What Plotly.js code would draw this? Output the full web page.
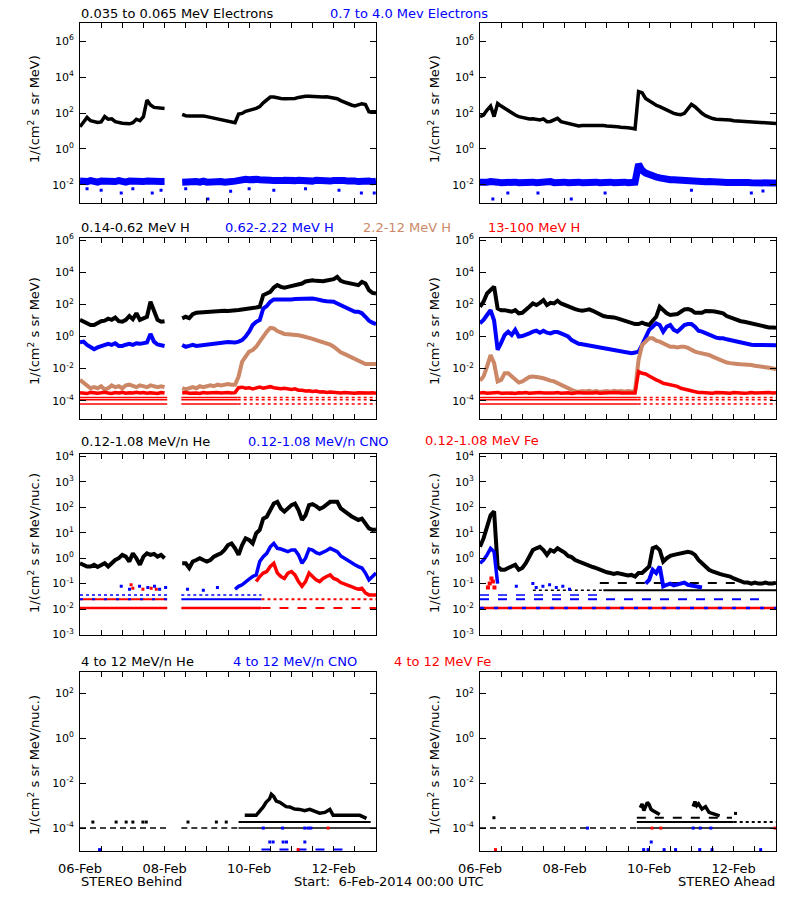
<!DOCTYPE html>
<html><head><meta charset="utf-8">
<script src="https://cdn.plot.ly/plotly-3.0.1.min.js"></script>
<style>html,body{margin:0;padding:0;background:#fff}#chart{width:800px;height:900px}</style>
</head><body><div id="chart"></div>
<script>
// ---- time grid: hours since 6-Feb-2014 00:00 UTC, one reading every 2 h ----
const HOURS = Array.from({length: 85}, (_, i) => 2 * i);
const TICK_HOURS = [0, 48, 96, 144];
const TICK_TEXT = ['06-Feb', '08-Feb', '10-Feb', '12-Feb'];

// ---- Row 1: electrons ----
const B_E_LOW = [17,33,57,37,32,30,32,63,45,47, 33,29,27,26,25,29,45,37,63,530,
 280,205,200,205,180,null,null,null,null,85, 71,68,68,71,74,68,63,57,50,45,
 39,37,35,32,29,88,95,125,147,160, 180,225,370,525,775,775,680,650,630,630,
 650,650,740,810,850,850,810,775,740,775, 810,740,680,630,490,390,316,280,245,280,
 330,300,118,118,118];
const B_E_HIGH = [0.016,0.014,0.015,0.017,0.015,0.014,0.016,0.015,0.014,0.016,
 0.015,0.017,0.015,0.014,0.016,0.015,0.016,0.014,0.015,0.016,
 0.015,0.014,0.016,0.015,0.015,null,null,null,null,0.014,
 0.015,0.013,0.014,0.015,0.014,0.016,0.014,0.015,0.014,0.016,
 0.015,0.014,0.016,0.015,0.016,0.018,0.019,0.020,0.019,0.021,
 0.020,0.019,0.020,0.019,0.018,0.017,0.016,0.017,0.018,0.017,
 0.016,0.017,0.018,0.017,0.016,0.017,0.016,0.018,0.017,0.016,
 0.017,0.016,0.017,0.018,0.016,0.017,0.016,0.017,0.016,0.015,
 0.016,0.017,0.016,0.015,0.016];
const B_E_HIGH_OUT_H = [4,12,23.4,30,41,46,60,72.6,85.5,96,110,128,147,159.7,167];
const B_E_HIGH_OUT = [0.006,0.005,0.0035,0.006,0.0035,0.005,0.006,0.0016,0.0043,0.006,0.005,0.006,0.005,0.0035,0.0035];

const A_E_LOW = [63,77,147,240,63,345,245,180,135,105, 77,63,55,50,47,48,45,41,47,33,
 34,41,50,33,30,28,25,21,19,20, 20,21,20,22,21,20,19,19,17,17,
 16,16,15,14,13,1550,1350,650,465,345, 270,225,180,147,118,96,85,81,96,180,
 300,225,135,96,71,57,49,45,45,43, 41,41,37,36,36,35,33,33,32,31,
 29,28,27,26,26];
const A_E_HIGH = [0.014,0.013,0.014,0.015,0.013,0.014,0.013,0.014,0.015,0.013,
 0.014,0.013,0.014,0.013,0.015,0.014,0.013,0.014,0.013,0.014,
 0.015,0.013,0.014,0.013,0.014,0.013,0.014,0.013,0.014,0.013,
 0.014,0.015,0.013,0.014,0.013,0.014,0.013,0.014,0.013,0.014,
 0.013,0.014,0.013,0.014,0.014,0.14,0.063,0.045,0.036,0.030,
 0.027,0.024,0.021,0.020,0.019,0.019,0.018,0.017,0.017,0.016,
 0.0155,0.016,0.015,0.015,0.0145,0.015,0.014,0.0145,0.014,0.014,
 0.0135,0.014,0.0135,0.013,0.0135,0.013,0.0135,0.013,0.0125,0.013,
 0.0125,0.013,0.0125,0.0125,0.0125];
const A_E_HIGH_OUT_H = [7.3,15.8,32.9,51.8,71,120,154,160.6];
const A_E_HIGH_OUT = [0.0016,0.0035,0.0035,0.0016,0.0035,0.005,0.0035,0.0045];

// ---- Row 2: protons ----
const B_H1 = [11,9,6.6,5.2,5.2,7.3,9,9.7,13,11, 15,9,8.3,11,19,12,28,11,13.5,17,
 147,44,11,8.3,9,null,null,null,null,13.5, 17,14,25,30,31,35,37,39,40,39,
 40,40,39,40,39,45,49,51,54,56, 65,72,380,480,610,1140,1590,1250,1090,1250,
 1380,1590,1820,2000,2690,2950,3240,2950,2820,2820, 3090,3560,3720,5250,2950,2450,2140,1820,1590,1590,
 2570,2000,775,525,480];
const B_H2 = [0.44,0.48,0.30,0.21,0.16,0.21,0.26,0.30,0.35,0.30,
 0.38,0.26,0.26,0.31,0.35,0.30,0.38,0.35,0.38,0.42,
 1.45,0.48,0.32,0.30,0.26,null,null,null,null,0.30,
 0.23,0.26,0.30,0.26,0.28,0.31,0.31,0.35,0.38,0.38,
 0.42,0.44,0.46,0.44,0.42,0.48,0.60,1.0,2.0,5.2,
 8.3,10.7,56,79,147,205,205,185,185,205,
 205,215,225,235,245,245,235,215,205,170,
 160,160,147,115,91,65,49,40,35,35,
 28,17,9.7,7.3,6.0];
const B_H3 = [0.002,0.00135,0.00085,0.0006,0.0007,0.0006,0.0008,0.0005,0.0006,0.0009,
 0.0007,0.0008,0.0006,0.0009,0.001,0.0008,0.0007,0.0009,0.0008,0.0007,
 0.0009,0.0008,0.0007,0.0008,0.0007,null,null,null,null,0.0006,
 0.0005,0.0006,0.0007,0.0006,0.0008,0.0007,0.0008,0.0009,0.0008,0.001,
 0.0009,0.001,0.0011,0.001,0.001,0.0032,0.027,0.056,0.115,0.145,
 0.23,0.48,1.07,2.0,3.5,3.2,2.2,1.7,1.45,1.38,
 1.38,1.25,1.2,1.07,0.98,0.85,0.71,0.60,0.52,0.44,
 0.38,0.31,0.23,0.145,0.104,0.083,0.065,0.051,0.038,0.032,
 0.027,0.0195,0.0195,0.0195,0.0195];
const B_H4 = [3.2e-4,3e-4,2.8e-4,3.3e-4,3e-4,2.9e-4,3.1e-4,3.4e-4,3e-4,2.8e-4,
 3.2e-4,3e-4,3.3e-4,2.9e-4,3.1e-4,3e-4,3.4e-4,3e-4,3.2e-4,2.9e-4,
 3.1e-4,3e-4,2.8e-4,3.2e-4,3e-4,null,null,null,null,3e-4,
 3.2e-4,2.9e-4,3.1e-4,3e-4,2.8e-4,3.2e-4,3e-4,3.1e-4,2.9e-4,3.2e-4,
 3e-4,3.1e-4,3.3e-4,3e-4,3.2e-4,6.5e-4,7e-4,6e-4,6.5e-4,5.5e-4,
 6.5e-4,7e-4,6e-4,7e-4,7.5e-4,6.5e-4,6e-4,5.5e-4,6e-4,5.5e-4,
 5e-4,5.5e-4,4.5e-4,4.5e-4,4e-4,4.2e-4,3.8e-4,4e-4,3.5e-4,3.6e-4,
 3.3e-4,3.5e-4,3.2e-4,3.3e-4,3e-4,3.2e-4,3e-4,3.1e-4,2.9e-4,3.1e-4,
 3e-4,2.9e-4,3e-4,3.1e-4,2.9e-4];
const H_RED_LEVELS = [1.6e-4, 1.15e-4, 6.2e-5];

const A_H1 = [72,147,480,775,1300,56,44,44,39,35, 44,28,30,44,72,115,91,126,185,91,
 126,115,170,115,91,72,62,51,44,40, 44,49,40,30,22,19,17,17,15.5,13.5,
 11.7,9.7,8.3,6.6,6,6,7.3,6,5.2,9.7, 17,72,44,28,22,22,25,35,49,51,
 44,30,28,30,39,40,37,35,30,28, 19,15.5,11.7,11,9,8.3,7.3,6.6,5.7,4.7,
 4.5,4.1,3.7,3.7,3.5];
const A_H2 = [6.6,10.7,22,44,10,0.15,0.4,1.25,2.0,1.25,
 2.6,1.0,1.07,1.25,1.58,2.0,2.3,1.73,2.3,1.73,
 1.58,1.9,1.9,1.58,1.25,1.0,0.6,0.42,0.35,0.33,
 0.3,0.3,0.26,0.23,0.21,0.195,0.17,0.16,0.145,0.13,
 0.12,0.11,0.1,0.091,0.1,0.115,0.3,1.0,2.6,4.1,
 6.6,5.2,2.0,4.1,5.2,2.6,2.0,3.2,5.2,6.0,
 6.0,4.1,2.3,2.0,1.58,1.45,1.0,0.85,0.78,0.78,
 0.67,0.6,0.52,0.42,0.38,0.35,0.33,0.31,0.3,0.3,
 0.3,0.3,0.3,0.29,0.29];
const A_H3 = [0.0018,0.0032,0.0135,0.07,0.022,0.0016,0.002,0.0051,0.0051,0.0032,
 0.0018,0.00135,0.0016,0.0022,0.003,0.0032,0.0032,0.0028,0.0025,0.002,
 0.0018,0.0016,0.00122,0.00098,0.00078,0.0006,0.00048,0.0004,0.00035,0.0004,
 0.00038,0.00042,0.00036,0.0004,0.00035,0.00038,0.0004,0.00036,0.00042,0.00038,
 0.0004,0.00036,0.0004,0.00038,0.0004,0.035,0.3,0.48,0.78,0.78,
 0.55,0.48,0.38,0.3,0.23,0.23,0.21,0.23,0.23,0.195,
 0.145,0.115,0.1,0.091,0.083,0.071,0.056,0.045,0.035,0.027,
 0.024,0.022,0.0195,0.0195,0.0185,0.0185,0.017,0.017,0.0152,0.0135,
 0.0122,0.0122,0.0112,0.01,0.0093];
const A_H4 = [3e-4,3.2e-4,2.9e-4,3.1e-4,3e-4,3.3e-4,2.9e-4,3e-4,3.2e-4,3e-4,
 2.8e-4,3.1e-4,3e-4,3.2e-4,2.9e-4,3.1e-4,3e-4,3.3e-4,3e-4,2.9e-4,
 3.1e-4,3e-4,3.2e-4,2.9e-4,3e-4,3.1e-4,2.8e-4,3e-4,3.2e-4,3e-4,
 2.9e-4,3.1e-4,3e-4,3.2e-4,2.9e-4,3e-4,3.1e-4,2.9e-4,3e-4,3.2e-4,
 3e-4,2.9e-4,3.1e-4,3e-4,3e-4,0.0066,0.0051,0.0046,0.0035,0.0025,
 0.002,0.0016,0.00122,0.0011,0.00098,0.0009,0.00078,0.0006,0.00052,0.00048,
 0.00042,0.00038,0.00033,3.2e-4,3e-4,3.1e-4,2.9e-4,3.2e-4,3e-4,3.1e-4,
 3e-4,2.9e-4,3.2e-4,3e-4,3.1e-4,2.9e-4,3e-4,3.2e-4,3e-4,3.1e-4,
 2.9e-4,3e-4,3.2e-4,3e-4,3.1e-4];

// ---- Row 3: 0.12-1.08 MeV/n ions ----
const B_HE = [0.63,0.55,0.47,0.47,0.55,0.45,0.55,0.63,0.47,0.63,
 0.85,1.0,1.35,1.15,0.74,1.55,1.0,0.55,1.15,1.55,
 1.35,1.48,1.15,1.35,1.0,null,null,null,null,0.63,
 0.63,0.41,0.74,0.85,1.0,0.85,0.74,0.85,1.15,1.35,
 1.55,2.1,3.3,3.8,2.45,1.35,3.3,6.0,5.2,3.8,
 9.6,13,36,43,78,141,165,91,68,91,
 123,141,78,32,49,123,134,112,87,100,
 123,165,165,165,91,68,57,45,36,32,
 36,23,15,13,13.6];
const B_CNO = [0.06,0.078,0.09,0.12,0.15,0.19,
 0.22,0.74,1.15,1.55,2.8,3.8,2.45,2.3,2.1,1.8,
 2.1,2.1,1.35,0.63,1.0,2.3,2.1,1.66,1.48,1.66,
 2.0,2.45,2.1,1.8,1.23,1.0,0.81,0.63,0.55,0.47,
 0.41,0.26,0.14,0.19,0.26];            // from hour 88
const B_FE = [0.12,0.19,0.26,0.3,0.47,0.63,0.26,0.19,0.16,0.26,
 0.3,0.22,0.12,0.078,0.12,0.26,0.19,0.14,0.12,0.16,
 0.19,0.22,0.16,0.14,0.11,0.1,0.085,0.077,0.066,0.06,
 0.066,0.043,0.036,0.036,0.036];        // from hour 100
const B_CNO_SPARSE_H = [23.4,28.1,33.8,38.5,42.3,45.2,48.6,61,70,78];
const B_CNO_SPARSE = [0.078,0.06,0.078,0.07,0.078,0.06,0.07,0.06,0.055,0.07];
const B_FE_SPARSE_H = [29,30,35.7,40.4,43.3];
const B_FE_SPARSE = [0.09,0.066,0.06,0.066,0.06];

const A_HE = [2.8,6.0,17,49,70,0.47,0.35,0.35,0.41,0.47,
 0.55,0.35,0.41,0.63,1.15,2.1,2.45,2.8,2.1,1.35,
 2.1,1.8,2.45,2.1,1.66,1.23,1.1,0.85,0.74,0.63,
 0.55,0.47,0.45,0.41,0.35,0.3,0.28,0.26,0.24,0.26,
 0.24,0.22,0.21,0.22,0.19,0.26,0.26,0.35,0.47,2.45,
 2.8,2.1,0.74,1.0,1.23,1.35,1.48,1.55,1.66,1.8,
 1.66,1.35,0.85,0.63,0.47,0.35,0.3,0.26,0.24,0.22,
 0.21,0.19,0.16,0.14,0.12,0.11,0.11,0.1,0.11,0.1,
 0.1,0.11,0.1,0.1,0.11];
const A_CNO_EARLY = [0.63,0.85,1.35,2.45,1.8,0.1];        // hours 0-10
const A_CNO_EVENT = [0.1,0.14,0.35,0.26,0.47,0.078,0.09,0.1,0.085,0.09,0.1,0.11,0.09,0.085,0.08,0.075,0.07]; // hours 94-126
const A_CNO_SPARSE_H = [20.6,30,31.9,35.7,39.5,43.3,47,50.8];
const A_CNO_SPARSE = [0.078,0.1,0.07,0.078,0.09,0.07,0.078,0.06];
const A_FE_SPARSE_H = [4.5,5.5,6.5,7.3,8.2];
const A_FE_SPARSE = [0.07,0.1,0.16,0.12,0.07];

// ---- Row 4: 4-12 MeV/n ions ----
const B_HE2_LOW_H = [7.3,20.5,26.2,30,35.7,37.6,61.3,77.4,83];
const B_HE2_EVENT_H = [93.5,96.3,100,104,105.6,107.6,108.6,110,111.4,113.4,115,117,119,121.8,124.7,127.5,130.4,133,136,139,141.8,143.7,147.5,153,158.8,162.6];
const B_HE2_EVENT = [3.7e-4,3.7e-4,3.7e-4,8.7e-4,1.4e-3,2e-3,3.2e-3,2.5e-3,1.6e-3,1.4e-3,1.1e-3,9e-4,8.7e-4,7e-4,6.8e-4,6e-4,6.8e-4,5.5e-4,4.6e-4,5e-4,6.8e-4,3.7e-4,3.7e-4,3.7e-4,3.7e-4,2.7e-4];
const B_CNO2_LOW_H = [11.1,107.7,109.6,115.3,117.2,127.6];
const B_CNO2_LOW = [1.1e-5,2.4e-5,2.4e-5,2.4e-5,2.4e-5,2.4e-5];
const B_CNO2_BASE_H = [104,115,127.6,129.5,131];
const B_FE2_H = [123.8,140.8];
const B_FE2 = [1.1e-5,1e-4];

const A_HE2_EARLY_H = [7.9];
const A_HE2_EARLY = [2.9e-4];
const A_HE2_EV1_H = [91,92,93,94,95,96,97,98,100,102];
const A_HE2_EV1 = [8e-4,1.2e-3,6e-4,1e-3,1.4e-3,1.1e-3,7e-4,6e-4,5e-4,4e-4];
const A_HE2_EV2_H = [121,122,123,124,126,128,130,133,136,145];
const A_HE2_EV2 = [9e-4,1.5e-3,1e-3,1.2e-3,7e-4,9e-4,5e-4,4e-4,3.5e-4,4.5e-4];
const A_CNO2_H = [92.9,95.4,97.2,104.5,111,124.7,131.7,159.3,61,121,125,131];
const A_CNO2 = [1.1e-5,1.1e-5,2.4e-5,1.1e-5,1.1e-5,1.1e-5,1.1e-5,1.1e-5,1e-4,1e-4,1e-4,1e-4];
const A_FE2_H = [8.8,97.6,102.6,167.5];
const A_FE2 = [1.1e-5,1e-4,1e-4,1e-4];

const BLACK = '#000000', BLUE = '#0000ff', BROWN = 'rgb(204,136,102)', RED = '#ff0000';
const FONT = 'DejaVu Sans, sans-serif';

function tr(p, x, y, color, width, dash) {
  const ax = p === 1 ? '' : String(p);
  return {type: 'scatter', mode: 'lines', x: x, y: y, xaxis: 'x' + ax, yaxis: 'y' + ax,
    line: {color: color, width: width, dash: dash || 'solid'}, connectgaps: false,
    hoverinfo: 'skip', showlegend: false};
}
function mk(p, x, y, color, size) {
  const ax = p === 1 ? '' : String(p);
  return {type: 'scatter', mode: 'markers', x: x, y: y, xaxis: 'x' + ax, yaxis: 'y' + ax,
    marker: {color: color, size: size || 3, symbol: 'square', line: {width: 0}},
    hoverinfo: 'skip', showlegend: false};
}
function seg(p, spans, level, color, width, dash) {
  const x = [], y = [];
  spans.forEach((s, k) => { if (k) { x.push(null); y.push(null); } x.push(s[0], s[1]); y.push(level, level); });
  return tr(p, x, y, color, width, dash);
}
const B_SPANS = [[0, 49.5], [57.5, 89.5]];
const AFTER = [[89.5, 168]];

const traces = [
  // panel 1
  tr(1, HOURS, B_E_LOW, BLACK, 3.5),
  tr(1, HOURS, B_E_HIGH, BLUE, 7),
  mk(1, B_E_HIGH_OUT_H, B_E_HIGH_OUT, BLUE, 3),
  // panel 2
  tr(2, HOURS, A_E_LOW, BLACK, 3.5),
  tr(2, HOURS, A_E_HIGH, BLUE, 7),
  mk(2, A_E_HIGH_OUT_H, A_E_HIGH_OUT, BLUE, 3),
  // panel 3
  tr(3, HOURS, B_H1, BLACK, 4),
  tr(3, HOURS, B_H2, BLUE, 4),
  tr(3, HOURS, B_H3, BROWN, 4),
  ...H_RED_LEVELS.map(l => seg(3, B_SPANS, l, RED, 1.5)),
  ...H_RED_LEVELS.map(l => seg(3, AFTER, l, RED, 1.5, 'dot')),
  tr(3, HOURS, B_H4, RED, 3.5),
  // panel 4
  tr(4, HOURS, A_H1, BLACK, 4),
  tr(4, HOURS, A_H2, BLUE, 4),
  tr(4, HOURS, A_H3, BROWN, 4),
  ...H_RED_LEVELS.map(l => seg(4, [[0, 89.5]], l, RED, 1.5)),
  ...H_RED_LEVELS.map(l => seg(4, AFTER, l, RED, 1.5, 'dot')),
  tr(4, HOURS, A_H4, RED, 3.5),
  // panel 5
  tr(5, HOURS, B_HE, BLACK, 4),
  seg(5, [[0, 49.5], [57.5, 103]], 0.036, BLUE, 1.5, 'dot'),
  seg(5, [[0, 49.5]], 0.024, RED, 2),
  seg(5, [[0, 49.5]], 0.024, BLUE, 2, '3px,9px'),
  seg(5, [[57.5, 103]], 0.024, BLUE, 2),
  seg(5, [[103, 168]], 0.024, RED, 2, 'dot'),
  seg(5, [[0, 49.5], [57.5, 103]], 0.011, RED, 2.5),
  seg(5, [[103, 168]], 0.011, RED, 2, 'dash'),
  mk(5, B_CNO_SPARSE_H, B_CNO_SPARSE, BLUE, 3),
  mk(5, B_FE_SPARSE_H, B_FE_SPARSE, RED, 3),
  tr(5, HOURS.slice(44), B_CNO, BLUE, 3.5),
  tr(5, HOURS.slice(50), B_FE, RED, 3.5),
  // panel 6
  seg(6, [[70, 168]], 0.055, BLACK, 2),
  seg(6, [[30, 70]], 0.055, BLACK, 1.5, 'dot'),
  seg(6, [[68, 168]], 0.105, BLACK, 2, 'dash'),
  tr(6, HOURS, A_HE, BLACK, 4),
  seg(6, [[0, 70]], 0.036, BLUE, 1.5, 'dash'),
  seg(6, [[0, 160]], 0.024, BLUE, 2, 'dash'),
  seg(6, [[0, 168]], 0.011, RED, 2.5),
  seg(6, [[0, 168]], 0.011, BLUE, 2.5, '4px,10px'),
  mk(6, A_CNO_SPARSE_H, A_CNO_SPARSE, BLUE, 3),
  tr(6, HOURS.slice(0, 6), A_CNO_EARLY, BLUE, 3.5),
  tr(6, HOURS.slice(47, 64), A_CNO_EVENT, BLUE, 4),
  mk(6, A_FE_SPARSE_H, A_FE_SPARSE, RED, 4),
  // panel 7
  seg(7, [[0, 49.5], [57.5, 90]], 1e-4, BLACK, 1.5, '6px,4px'),
  seg(7, [[90, 168]], 1e-4, BLACK, 1.5),
  seg(7, [[90, 165]], 1.86e-4, BLACK, 2),
  mk(7, B_HE2_LOW_H, B_HE2_LOW_H.map(() => 1.86e-4), BLACK, 3),
  tr(7, B_HE2_EVENT_H, B_HE2_EVENT, BLACK, 3.5),
  seg(7, [[103, 149]], 1.1e-5, BLUE, 2, 'dash'),
  mk(7, B_CNO2_LOW_H, B_CNO2_LOW, BLUE, 3),
  mk(7, B_CNO2_BASE_H, B_CNO2_BASE_H.map(() => 1e-4), BLUE, 3),
  mk(7, B_FE2_H, B_FE2, RED, 3),
  // panel 8
  seg(8, [[0, 89]], 1e-4, BLACK, 1.5, '6px,4px'),
  seg(8, [[89, 168]], 1e-4, BLACK, 1.5),
  seg(8, [[89, 144]], 1.86e-4, BLACK, 2),
  seg(8, [[144, 168]], 1.86e-4, BLACK, 2, 'dot'),
  seg(8, [[89, 143]], 2.9e-4, BLACK, 2, 'dash'),
  mk(8, A_HE2_EARLY_H, A_HE2_EARLY, BLACK, 3),
  tr(8, A_HE2_EV1_H, A_HE2_EV1, BLACK, 3.5),
  tr(8, A_HE2_EV2_H.slice(0, 9), A_HE2_EV2.slice(0, 9), BLACK, 3.5),
  mk(8, A_HE2_EV2_H.slice(9), A_HE2_EV2.slice(9), BLACK, 3),
  mk(8, A_CNO2_H, A_CNO2, BLUE, 3),
  mk(8, A_FE2_H, A_FE2, RED, 3)
];

// ---- axes ----
const ROW_DOMAINS = [[0.77478, 0.97411], [0.53478, 0.73556], [0.29478, 0.49556], [0.05444, 0.25333]];
const COL_DOMAINS = [[0.1, 0.47], [0.6, 0.97]];
const Y_RANGES = [[-3, 7], [-5.12, 6.14], [-3.01, 4.1], [-5.02, 2.95]];
const Y_EXPONENTS = [[-2, 0, 2, 4, 6], [-4, -2, 0, 2, 4, 6], [-3, -2, -1, 0, 1, 2, 3, 4], [-4, -2, 0, 2]];

const layout = {
  width: 800, height: 900, margin: {l: 0, r: 0, t: 0, b: 0},
  paper_bgcolor: '#ffffff', plot_bgcolor: '#ffffff', showlegend: false,
  font: {family: FONT, size: 13, color: '#000'},
  annotations: []
};
for (let p = 1; p <= 8; p++) {
  const row = Math.floor((p - 1) / 2), col = (p - 1) % 2;
  const ax = p === 1 ? '' : String(p);
  layout['xaxis' + ax] = {
    domain: COL_DOMAINS[col], anchor: 'y' + ax, range: [0, 168],
    showgrid: false, zeroline: false, showline: true, linecolor: '#000', linewidth: 1,
    mirror: 'ticks', ticks: 'inside', ticklen: 5, tickwidth: 1, tickcolor: '#000',
    tickmode: 'array', tickvals: TICK_HOURS, ticktext: TICK_TEXT,
    minor: {tickmode: 'linear', tick0: 0, dtick: 12, ticks: 'inside', ticklen: 5, tickwidth: 1, tickcolor: '#000', showgrid: false},
    showticklabels: row === 3, ticklabelstandoff: 5,
    tickfont: {family: FONT, size: 13, color: '#000'}, fixedrange: true
  };
  layout['yaxis' + ax] = {
    domain: ROW_DOMAINS[row], anchor: 'x' + ax, type: 'log', range: Y_RANGES[row],
    showgrid: false, zeroline: false, showline: true, linecolor: '#000', linewidth: 1,
    mirror: 'ticks', ticks: 'inside', ticklen: 6, tickwidth: 1, tickcolor: '#000',
    tickmode: 'array', tickvals: Y_EXPONENTS[row].map(e => Math.pow(10, e)),
    ticktext: Y_EXPONENTS[row].map(e => '10<sup>' + e + '</sup>'),
    ticklabelstandoff: 3,
    tickfont: {family: FONT, size: 11, color: '#000'}, fixedrange: true
  };
}

function note(text, px, py, color, anchor, extra) {
  return Object.assign({text: text, x: px / 800, y: 1 - py / 900, xref: 'paper', yref: 'paper',
    xanchor: anchor || 'left', yanchor: 'middle', showarrow: false, borderpad: 0,
    font: {family: FONT, size: 13, color: color}}, extra || {});
}
const TITLES = [
  ['0.035 to 0.065 MeV Electrons', 80, 13, BLACK], ['0.7 to 4.0 Mev Electrons', 329, 13, BLUE],
  ['0.14-0.62 MeV H', 80, 227, BLACK], ['0.62-2.22 MeV H', 224, 227, BLUE],
  ['2.2-12 MeV H', 362, 227, BROWN], ['13-100 MeV H', 487, 227, RED],
  ['0.12-1.08 MeV/n He', 80, 441, BLACK], ['0.12-1.08 MeV/n CNO', 247, 441, BLUE],
  ['0.12-1.08 MeV Fe', 424, 440, RED],
  ['4 to 12 MeV/n He', 80, 661, BLACK], ['4 to 12 MeV/n CNO', 232, 661, BLUE],
  ['4 to 12 MeV Fe', 393, 661, RED]
];
TITLES.forEach(t => layout.annotations.push(note(t[0], t[1], t[2], t[3])));
const YTITLES = ['1/(cm<sup>2</sup> s sr MeV)', '1/(cm<sup>2</sup> s sr MeV)',
  '1/(cm<sup>2</sup> s sr MeV/nuc.)', '1/(cm<sup>2</sup> s sr MeV/nuc.)'];
const YTITLE_CENTERS = [109, 331, 543, 765];
YTITLES.forEach((t, r) => {
  [34, 434].forEach(px => layout.annotations.push(
    note(t, px, YTITLE_CENTERS[r], BLACK, 'center', {textangle: -90})));
});
layout.annotations.push(note('STEREO Behind', 80, 881, BLACK, 'left'));
layout.annotations.push(note('Start: \u00a06-Feb-2014 00:00 UTC', 293, 881, BLACK, 'left'));
layout.annotations.push(note('STEREO Ahead', 776, 881, BLACK, 'right'));

Plotly.newPlot('chart', traces, layout, {staticPlot: true, displayModeBar: false});
</script>
</body></html>
